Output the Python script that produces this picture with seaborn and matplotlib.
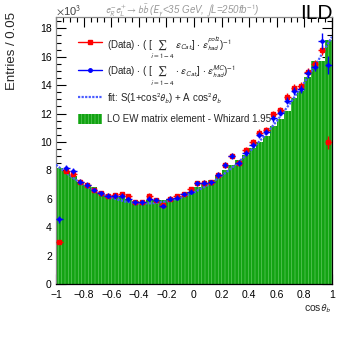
import numpy as np
import pandas as pd
import matplotlib
matplotlib.use('Agg')
import matplotlib.pyplot as plt
from matplotlib.patches import Patch, Rectangle
from matplotlib.lines import Line2D
from matplotlib.legend_handler import HandlerPatch
from matplotlib.ticker import MultipleLocator
import seaborn as sns

# ─── Données (40 bins de 0.05, en unités de 10^3) ────────────────────────────
bin_edges = np.linspace(-1, 1, 41)
bin_centers = (bin_edges[:-1] + bin_edges[1:]) / 2

whizard = [8.20, 7.95, 7.60, 7.20, 6.90, 6.80, 6.40, 6.20, 6.15, 6.10,
           6.00, 5.85, 5.80, 5.90, 5.90, 5.90, 5.95, 6.05, 6.20, 6.45,
           6.80, 7.10, 7.35, 7.65, 8.05, 8.40, 8.70, 9.10, 9.55, 10.00,
           10.40, 11.10, 11.60, 12.20, 13.10, 13.60, 14.60, 15.70, 15.70, 17.20]

data_pol2 = [2.94, 7.98, 7.75, 7.20, 6.97, 6.62, 6.38, 6.22, 6.25, 6.31,
             6.20, 5.75, 5.75, 6.22, 5.92, 5.56, 6.01, 6.17, 6.34, 6.67,
             7.09, 7.14, 7.16, 7.68, 8.38, 9.04, 8.54, 9.44, 9.97, 10.66,
             10.85, 11.97, 12.25, 13.19, 13.83, 13.94, 14.95, 15.49, 16.50, 9.98]
err_pol2 = [0.15, 0.18, 0.18, 0.17, 0.17, 0.16, 0.16, 0.16, 0.16, 0.16,
            0.16, 0.15, 0.15, 0.16, 0.15, 0.15, 0.16, 0.16, 0.16, 0.17,
            0.17, 0.17, 0.17, 0.18, 0.19, 0.20, 0.19, 0.20, 0.21, 0.22,
            0.22, 0.23, 0.24, 0.25, 0.26, 0.26, 0.28, 0.30, 0.35, 0.45]

data_mc = [4.56, 8.19, 7.96, 7.20, 6.97, 6.62, 6.38, 6.22, 6.22, 6.22,
           5.96, 5.75, 5.75, 6.01, 5.92, 5.49, 6.01, 6.08, 6.34, 6.50,
           7.09, 7.14, 7.16, 7.68, 8.38, 9.00, 8.54, 9.25, 9.79, 10.49,
           10.70, 11.67, 12.06, 12.91, 13.61, 13.71, 14.83, 15.30, 17.10, 15.40]
err_mc = [0.25, 0.20, 0.20, 0.18, 0.18, 0.17, 0.17, 0.17, 0.17, 0.17,
          0.16, 0.16, 0.16, 0.16, 0.16, 0.16, 0.16, 0.17, 0.17, 0.17,
          0.18, 0.18, 0.18, 0.19, 0.20, 0.21, 0.20, 0.21, 0.22, 0.23,
          0.24, 0.25, 0.26, 0.27, 0.28, 0.28, 0.30, 0.33, 0.55, 0.65]

fit_x = [-1.0, -0.9, -0.8, -0.7, -0.6, -0.5, -0.4, -0.3, -0.2, -0.1, 0.0,
         0.1, 0.2, 0.3, 0.4, 0.5, 0.6, 0.7, 0.8, 0.9, 1.0]
fit_y = [8.40, 7.62, 6.98, 6.46, 6.07, 5.81, 5.68, 5.68, 5.81, 6.06, 6.45,
         6.96, 7.61, 8.38, 9.28, 10.31, 11.47, 12.76, 14.18, 15.72, 17.40]

GREEN = '#12a312'
HATCH_COL = '#62c862'
HATCH = '|||||'

# ─── Style ───────────────────────────────────────────────────────────────────
sns.set_theme(style='ticks')
plt.rcParams['font.family'] = ['Liberation Sans', 'DejaVu Sans']
plt.rcParams['mathtext.fontset'] = 'stixsans'
plt.rcParams['hatch.linewidth'] = 0.5
plt.rcParams['hatch.color'] = HATCH_COL

fig = plt.figure(figsize=(3.49, 3.39), dpi=100)
ax = fig.add_axes([0.1605, 0.1622, 0.7905, 0.7878])

# Histogramme Whizard
df_h = pd.DataFrame({'x': bin_centers, 'w': whizard})
sns.histplot(data=df_h, x='x', weights='w', bins=40, binrange=(-1, 1), ax=ax,
             color=GREEN, alpha=1, linewidth=0, element='bars')
for p in ax.patches:
    p.set_facecolor(GREEN)
    p.set_edgecolor(HATCH_COL)
    p.set_linewidth(0)
    p.set_hatch(HATCH)

# Fit
df_f = pd.DataFrame({'x': fit_x, 'y': fit_y})
sns.lineplot(data=df_f, x='x', y='y', ax=ax, color='#4a5cff',
             linestyle=(0, (1, 0.6)), linewidth=1.6, zorder=3)

# Points de données
ax.errorbar(bin_centers, data_pol2, xerr=0.025, yerr=err_pol2, fmt='s',
            color='red', ms=2.2, elinewidth=1.0, capsize=0, zorder=4)
ax.errorbar(bin_centers, data_mc, xerr=0.025, yerr=err_mc, fmt='o',
            color='blue', ms=2.2, elinewidth=1.0, capsize=0, zorder=5)

# Axes
ax.set_xlim(-1, 1)
ax.set_ylim(0, 18.8)
ax.xaxis.set_minor_locator(MultipleLocator(0.05))
ax.yaxis.set_major_locator(MultipleLocator(2))
ax.yaxis.set_minor_locator(MultipleLocator(0.5))
ax.set_xticks(np.arange(-1, 1.01, 0.2))
ax.set_xticklabels(['\u22121', '\u22120.8', '\u22120.6', '\u22120.4', '\u22120.2',
                    '0', '0.2', '0.4', '0.6', '0.8', '1'])
ax.tick_params(which='both', direction='in', top=True, right=True,
               labelsize=7.5, colors='black', labelcolor='black')
ax.tick_params(axis='y', pad=3)
ax.tick_params(axis='x', pad=4)
ax.tick_params(which='major', length=7, width=0.8)
ax.tick_params(which='minor', length=3.5, width=0.8)
for s in ['left', 'top']:
    ax.spines[s].set_color('#888888')
for s in ['right', 'bottom']:
    ax.spines[s].set_color('black')
for s in ax.spines.values():
    s.set_linewidth(0.9)

ax.set_xlabel(r'cos$\theta_{b}$', fontsize=7.5, loc='right', labelpad=2)
ax.set_ylabel('Entries / 0.05', fontsize=9.5, loc='top', labelpad=16)
ax.yaxis.label.set_position((0, 1.02))
ax.text(0.0, 0.995, r'$\times$10$^{3}$', transform=ax.transAxes,
        fontsize=8, color='#444444', ha='left', va='bottom')

# Titre
fig.text(0.30, 0.968, r'$e^{-}_{R}e^{+}_{L}\rightarrow b\bar{b}$ ($E_{\gamma}$<35 GeV, $\int$L=250fb$^{-1}$)',
         fontsize=7, color='#999999', style='italic', ha='left', va='center')
fig.text(0.953, 0.988, 'ILD', fontsize=15, color='black', ha='right', va='top')


# Légende : rectangle plus bas que la hauteur de ligne
def small_box(legend, orig_handle, xdescent, ydescent, width, height, fontsize):
    return Rectangle((-xdescent, -ydescent + height * 0.22), width, height * 0.56)


handles = [
    Line2D([0], [0], color='red', marker='s', ms=2.5, lw=1.0),
    Line2D([0], [0], color='blue', marker='o', ms=2.5, lw=1.0),
    Line2D([0], [0], color='#4a5cff', linestyle=(0, (1, 0.6)), lw=1.6),
    Patch(facecolor=GREEN, edgecolor=HATCH_COL, hatch=HATCH, linewidth=0),
]
labels = [
    r'(Data) $\cdot$ ( [$\sum_{i=1-4}$ $\epsilon_{Cat_{i}}$] $\cdot$ $\epsilon^{pol2}_{had}$)$^{-1}$',
    r'(Data) $\cdot$ ( [$\sum_{i=1-4}$ $\cdot$ $\epsilon_{Cat_{i}}$] $\cdot$ $\epsilon^{MC}_{had}$)$^{-1}$',
    r'fit: S(1+cos$^{2}\theta_{b}$) + A cos$^{2}\theta_{b}$',
    'LO EW matrix element - Whizard 1.95',
]
ax.legend(handles, labels, loc='upper left', bbox_to_anchor=(0.065, 0.95),
          frameon=False, fontsize=7, labelspacing=0.3, handlelength=2.5,
          handleheight=2.3, handletextpad=0.55, borderaxespad=0,
          handler_map={Patch: HandlerPatch(patch_func=small_box)})

plt.savefig('out.png', dpi=100)
plt.close()
